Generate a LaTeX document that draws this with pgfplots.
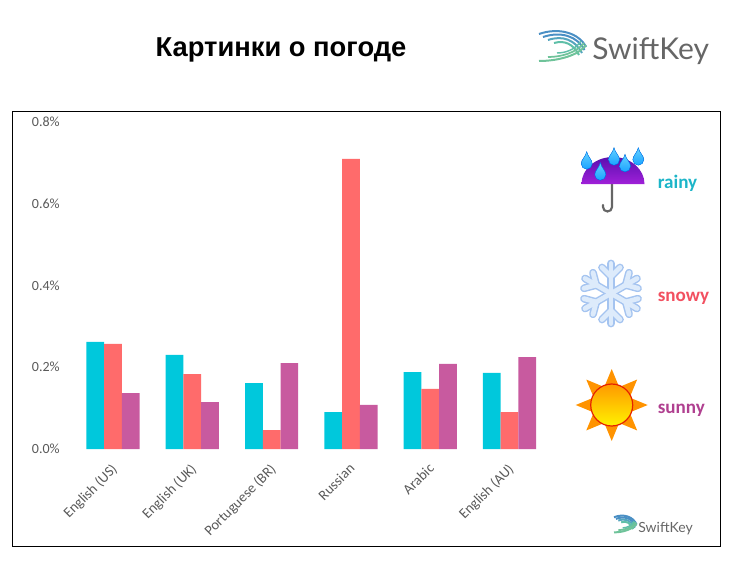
\documentclass[border=0pt]{standalone}
\usepackage{fontspec}
\setmainfont{Carlito}
\newfontfamily\titlefont{Liberation Sans}
\newfontfamily\logofont{Lato}
\usepackage{pgfplots}
\pgfplotsset{compat=1.18}
\definecolor{cA}{HTML}{00C8DC}
\definecolor{cB}{HTML}{FF6B6B}
\definecolor{cC}{HTML}{C85A9F}
\definecolor{tA}{HTML}{1CB5C8}
\definecolor{tB}{HTML}{F25060}
\definecolor{tC}{HTML}{B04090}
\definecolor{lblc}{HTML}{595959}
\definecolor{snowA}{HTML}{A5C4F0}
\definecolor{snowB}{HTML}{DDEBFB}
\definecolor{umbA}{HTML}{5A10B0}
\definecolor{umbB}{HTML}{A020D8}
\definecolor{swA}{HTML}{4A8FC4}
\definecolor{swB}{HTML}{55A5BE}
\definecolor{swC}{HTML}{5FBFA8}
\definecolor{swD}{HTML}{6FC39A}
\newcommand{\swoosh}{%
  \draw[swA,line width=1.5] (0,4) .. controls (20,-3) and (40,3) .. (47,17);
  \draw[swA,line width=1.5] (4,7) .. controls (22,1) and (38,6) .. (45.5,20);
  \draw[swB,line width=1.5] (9,10) .. controls (24,5) and (36,10) .. (43,23);
  \draw[swC,line width=1.5] (15,13) .. controls (26,10) and (34,14) .. (40,25);
  \draw[swD,line width=1.5] (0,31) .. controls (20,31) and (40,25) .. (47,15);
  \draw[swD,line width=1.3] (9,27) .. controls (22,27) and (37,23) .. (45,13);
  \draw[swC,line width=1.1] (18,23) .. controls (26,23) and (36,20) .. (42,11);
}
\begin{document}
\begin{tikzpicture}
\begin{axis}[
  at={(84.75pt,-336.75pt)},anchor=origin,
  scale only axis,width=357.75pt,height=245.25pt,
  ymin=0,ymax=0.8,xmin=-0.504,xmax=5.51,
  axis line style={draw=none},
  ybar=0pt,bar width=13.3pt,
  ytick={0,0.2,0.4,0.6,0.8},
  yticklabel style={/pgf/number format/fixed,/pgf/number format/fixed zerofill,/pgf/number format/precision=1,/pgf/number format/assume math mode=true,font=\fontsize{10.5pt}{12pt}\selectfont,text=lblc,xshift=-6.5pt},
  yticklabel={\pgfmathprintnumber{\tick}\%},
  xtick=data,
  xticklabels={English (US),English (UK),Portuguese (BR),Russian,Arabic,English (AU)},
  xticklabel style={rotate=45,anchor=north east,font=\fontsize{10.8pt}{12pt}\selectfont,text=lblc,xshift=-5pt,yshift=-2.35pt},
  major tick length=0pt,
  clip=false,
]
\addplot[fill=cA,draw=none] coordinates {(0,0.262)(1,0.230)(2,0.161)(3,0.090)(4,0.188)(5,0.186)};
\addplot[fill=cB,draw=none] coordinates {(0,0.257)(1,0.183)(2,0.046)(3,0.710)(4,0.147)(5,0.090)};
\addplot[fill=cC,draw=none] coordinates {(0,0.137)(1,0.115)(2,0.210)(3,0.108)(4,0.208)(5,0.225)};
\end{axis}
\begin{scope}[x=0.75pt,y=-0.75pt]
\path (0,0) rectangle (731,567);
\draw[black,line width=0.75pt] (12,111) rectangle (720,546);
\node[font=\titlefont\bfseries\fontsize{20.5pt}{24pt}\selectfont,anchor=center] at (281,50) {Картинки о погоде};
% big logo
\begin{scope}[shift={(539,30)}] \swoosh \end{scope}
\node[font=\logofont\fontsize{22.5pt}{28pt}\selectfont,text=black!60,anchor=base west,inner sep=0pt] at (592,60) {SwiftKey};
% small logo
\begin{scope}[shift={(614,515)},x=0.36pt,y=-0.42pt] \swoosh \end{scope}
\node[font=\logofont\fontsize{10.5pt}{12pt}\selectfont,text=black!60,anchor=base west,inner sep=0pt] at (638,532) {SwiftKey};
% umbrella
\draw[line width=1.6pt,black!60,line cap=round] (612,184) -- (612,207) arc[start angle=0,end angle=180,radius=4.5] -- ++(0,-2);
\shade[top color=umbA,bottom color=umbB] (581.5,184) arc[start angle=180,end angle=360,x radius=31.5,y radius=27] -- cycle;
\foreach \x/\y in {586.7/160.7,614/156.7,600.3/171.7,625/163.3,638.3/156.7}{
  \fill[top color=cyan!70!blue!60,bottom color=cyan!60!blue!90,draw=blue!50!cyan,line width=0.3pt] (\x,\y-9) .. controls (\x+1,\y-4) and (\x+5.5,\y-1) .. (\x+5.5,\y+3) arc[start angle=0,end angle=180,radius=5.5] .. controls (\x-5.5,\y-1) and (\x-1,\y-4) .. (\x,\y-9) -- cycle;
}
% snowflake
\begin{scope}[shift={(611,293.5)}]
\foreach \l/\c in {5.8/snowA,3.6/snowB}{
\foreach \r in {30,90,150,210,270,330}{
  \begin{scope}[rotate=\r]
  \draw[\c,line width=\l,line cap=round] (0,0) -- (30,0);
  \draw[\c,line width=\l,line cap=round] (17,0) -- (26,9);
  \draw[\c,line width=\l,line cap=round] (17,0) -- (26,-9);
  \end{scope}
}}
\end{scope}
% sun
\begin{scope}[shift={(611.7,405)}]
\foreach \r in {0,45,...,315}{
  \begin{scope}[rotate=\r]
  \fill[orange!85!yellow] (19,-7) -- (36,0) -- (19,7) -- cycle;
  \end{scope}
}
\shade[top color=orange!80!yellow,bottom color=yellow!90!orange] (0,0) circle (21);
\draw[red!70!orange!90!black,line width=0.9pt] (0,0) circle (21);
\end{scope}
% legend text
\node[font=\bfseries\fontsize{14.3pt}{16pt}\selectfont,text=tA,anchor=base west,inner sep=0pt] at (657.5,188) {rainy};
\node[font=\bfseries\fontsize{14.3pt}{16pt}\selectfont,text=tB,anchor=base west,inner sep=0pt] at (657.5,301) {snowy};
\node[font=\bfseries\fontsize{14.3pt}{16pt}\selectfont,text=tC,anchor=base west,inner sep=0pt] at (657.5,413) {sunny};
\end{scope}
\end{tikzpicture}
\end{document}
